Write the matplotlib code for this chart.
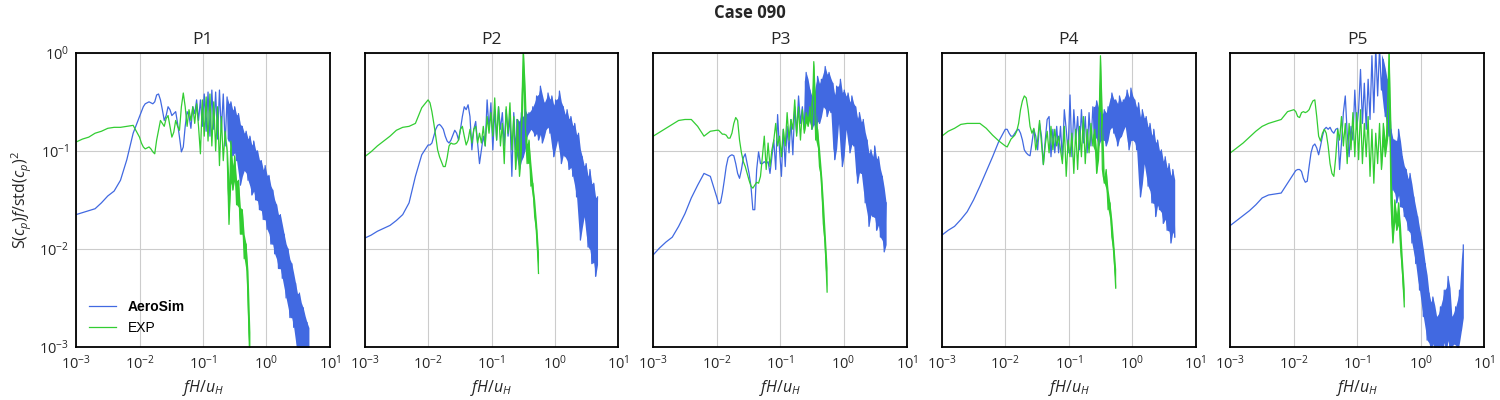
import matplotlib
matplotlib.use("Agg")
import matplotlib.pyplot as plt
import numpy as np

plt.rcParams['font.family'] = ['Open Sans', 'DejaVu Sans']
plt.rcParams['mathtext.fontset'] = 'custom'
plt.rcParams['mathtext.rm'] = 'Open Sans'
plt.rcParams['mathtext.it'] = 'Open Sans:italic'
plt.rcParams['mathtext.bf'] = 'Open Sans:bold'

# frequency grid, log10(fH/u_H)
logf = [-3.0, -2.9, -2.8, -2.7, -2.6, -2.5, -2.4, -2.3, -2.2, -2.1,
        -2.00, -1.97, -1.94, -1.91, -1.88, -1.85, -1.82, -1.79, -1.76, -1.73,
        -1.70, -1.67, -1.64, -1.61, -1.58, -1.55, -1.52, -1.49, -1.46, -1.43,
        -1.40, -1.37, -1.34, -1.31, -1.28, -1.25, -1.22, -1.19, -1.16, -1.13,
        -1.10, -1.07, -1.04, -1.01, -0.98, -0.95, -0.92, -0.89, -0.86, -0.83,
        -0.80, -0.77, -0.74, -0.71, -0.68, -0.65, -0.62, -0.59, -0.56, -0.53,
        -0.50, -0.47, -0.44, -0.41, -0.38, -0.35, -0.32, -0.29, -0.26, -0.23,
        -0.20, -0.17, -0.14, -0.11, -0.08, -0.05, -0.02, 0.01, 0.04, 0.07,
        0.10, 0.13, 0.16, 0.19, 0.22, 0.25, 0.28, 0.31, 0.34, 0.37,
        0.40, 0.43, 0.46, 0.49, 0.52, 0.55, 0.58, 0.61, 0.64, 0.67]

# log10 of S(cp)f/std(cp)^2, AeroSim and EXP for each probe
p1_sim = [-1.65, -1.63, -1.61, -1.59, -1.53, -1.46, -1.41, -1.30, -1.09, -0.82,
          -0.65, -0.60, -0.55, -0.52, -0.51, -0.50, -0.51, -0.52, -0.50, -0.43,
          -0.42, -0.48, -0.58, -0.69, -0.64, -0.55, -0.58, -0.64, -0.62, -0.60,
          -0.72, -0.86, -1.01, -0.96, -0.75, -0.60, -0.64, -0.77, -0.55, -0.62,
          -0.48, -0.69, -0.48, -0.75, -0.42, -0.80, -0.40, -0.85, -0.38, -0.78,
          -0.40, -0.88, -0.38, -0.80, -0.42, -0.95, -0.45, -0.90, -0.50, -1.05,
          -0.55, -1.10, -0.62, -1.35, -0.75, -1.20, -0.80, -1.30, -0.85, -1.45,
          -0.90, -1.50, -1.00, -1.60, -1.10, -1.70, -1.15, -1.80, -1.25, -1.95,
          -1.40, -2.05, -1.55, -2.20, -1.65, -2.30, -1.85, -2.50, -2.00, -2.70,
          -2.15, -2.80, -2.35, -3.05, -2.45, -3.10, -2.60, -3.15, -2.75, -3.10]
p1_exp = [-0.91, -0.88, -0.86, -0.82, -0.80, -0.77, -0.76, -0.76, -0.75, -0.74,
          -0.86, -0.92, -0.96, -0.98, -0.97, -0.96, -0.98, -1.01, -1.03, -0.89,
          -0.79, -0.69, -0.72, -0.75, -0.67, -0.64, -0.75, -0.86, -0.81, -0.69,
          -0.75, -0.79, -0.55, -0.41, -0.55, -0.75, -0.58, -0.69, -0.55, -0.72,
          -0.52, -0.75, -1.03, -0.48, -0.85, -0.45, -0.90, -0.42, -0.95, -0.50,
          -1.00, -0.55, -1.15, -0.65, -1.10, -0.80, -1.00, -1.75, -0.90, -1.40,
          -1.05, -1.55, -1.30, -1.85, -1.60, -2.10, -1.95, -2.50, -3.20]

p2_sim = [-1.89, -1.86, -1.82, -1.79, -1.76, -1.71, -1.65, -1.53, -1.26, -1.04,
          -0.94, -0.94, -0.92, -0.85, -0.78, -0.74, -0.73, -0.75, -0.78, -0.85,
          -0.90, -0.92, -0.89, -0.84, -0.79, -0.82, -0.89, -0.78, -0.65, -0.55,
          -0.58, -0.53, -0.65, -0.99, -0.78, -0.70, -0.92, -1.13, -0.99, -0.85,
          -0.95, -0.48, -0.78, -0.51, -0.99, -0.58, -0.89, -0.55, -0.78, -0.61,
          -0.95, -0.58, -0.85, -0.65, -1.26, -0.61, -0.99, -0.68, -1.19, -0.61,
          -1.06, -0.58, -0.85, -0.61, -0.78, -0.55, -0.85, -0.44, -0.89, -0.34,
          -0.92, -0.51, -0.78, -0.41, -0.82, -0.44, -1.06, -0.48, -0.89, -0.39,
          -1.13, -0.55, -1.06, -0.58, -1.19, -0.65, -1.26, -0.72, -1.47, -0.82,
          -1.91, -1.06, -1.67, -1.13, -1.98, -1.19, -2.15, -1.33, -2.28, -1.47]
p2_exp = [-1.06, -1.01, -0.95, -0.90, -0.85, -0.79, -0.76, -0.75, -0.72, -0.56,
          -0.48, -0.51, -0.60, -0.72, -0.85, -0.99, -1.06, -1.11, -1.16, -1.16,
          -1.07, -0.95, -0.92, -0.93, -0.93, -0.92, -0.89, -0.78, -0.75, -0.85,
          -0.94, -0.89, -0.78, -0.92, -0.78, -0.75, -0.92, -0.82, -0.92, -0.75,
          -0.95, -0.65, -0.82, -0.61, -0.85, -0.46, -0.89, -0.55, -0.95, -0.72,
          -1.13, -0.55, -0.82, -0.51, -0.99, -0.65, -1.19, -0.68, -1.26, -0.78,
          0.05, -0.72, -1.13, -0.89, -1.36, -1.33, -1.67, -1.81, -2.25]

p3_sim = [-2.06, -1.99, -1.93, -1.88, -1.77, -1.64, -1.48, -1.35, -1.23, -1.26,
          -1.47, -1.54, -1.53, -1.43, -1.30, -1.16, -1.07, -1.05, -1.04, -1.05,
          -1.13, -1.23, -1.28, -1.19, -1.07, -1.03, -1.13, -1.23, -1.36, -1.60,
          -1.60, -1.19, -1.01, -1.13, -1.13, -1.11, -1.13, -1.11, -1.23, -1.06,
          -0.89, -1.19, -0.63, -0.99, -1.26, -0.78, -1.16, -0.75, -1.02, -0.68,
          -1.04, -0.55, -0.82, -0.44, -0.72, -0.55, -0.78, -0.20, -0.65, -0.38,
          -0.78, -0.44, -0.78, -0.24, -0.72, -0.27, -0.55, -0.14, -0.65, -0.20,
          -0.61, -0.31, -1.09, -0.34, -0.72, -0.27, -1.16, -0.38, -0.78, -0.41,
          -1.02, -0.44, -0.95, -0.55, -1.33, -0.61, -1.23, -0.68, -1.53, -0.89,
          -1.77, -0.99, -1.67, -0.95, -1.81, -1.06, -1.88, -1.26, -2.03, -1.53]
p3_exp = [-0.85, -0.81, -0.77, -0.73, -0.69, -0.68, -0.68, -0.75, -0.85, -0.80,
          -0.79, -0.79, -0.81, -0.83, -0.83, -0.84, -0.87, -0.87, -0.82, -0.72,
          -0.66, -0.69, -0.89, -1.02, -1.11, -1.16, -1.23, -1.30, -1.36, -1.38,
          -1.35, -1.32, -1.33, -1.26, -1.06, -0.85, -1.19, -0.92, -1.16, -0.99,
          -0.89, -0.72, -0.95, -0.85, -1.06, -0.78, -0.95, -0.61, -0.89, -0.68,
          -0.78, -0.48, -0.85, -0.55, -0.89, -0.58, -0.82, -0.61, -0.75, -0.55,
          -0.78, -0.09, -0.89, -0.78, -1.16, -1.26, -1.74, -1.94, -2.44]

p4_sim = [-1.86, -1.81, -1.77, -1.70, -1.62, -1.50, -1.36, -1.21, -1.06, -0.90,
          -0.78, -0.78, -0.82, -0.85, -0.85, -0.82, -0.79, -0.78, -0.82, -0.89,
          -0.99, -1.02, -1.04, -1.05, -0.92, -0.78, -0.85, -0.99, -0.72, -0.85,
          -1.14, -0.89, -0.68, -0.65, -1.06, -0.78, -1.02, -0.75, -1.02, -0.75,
          -1.09, -0.58, -0.78, -1.02, -0.43, -1.06, -0.58, -0.89, -0.65, -0.99,
          -0.58, -0.92, -0.65, -1.02, -0.61, -0.95, -0.55, -0.85, -0.49, -0.95,
          -0.61, -0.89, -0.58, -0.95, -0.55, -0.78, -0.41, -0.82, -0.48, -0.95,
          -0.44, -0.85, -0.48, -0.75, -0.38, -0.99, -0.36, -0.89, -0.48, -0.99,
          -0.51, -1.47, -0.58, -1.13, -0.65, -1.36, -0.72, -1.53, -0.78, -1.67,
          -0.89, -1.60, -0.99, -1.74, -1.06, -1.81, -1.13, -1.94, -1.19, -1.88]
p4_exp = [-0.85, -0.80, -0.77, -0.73, -0.72, -0.72, -0.72, -0.77, -0.84, -0.90,
          -0.95, -0.96, -0.92, -0.88, -0.86, -0.84, -0.80, -0.72, -0.58, -0.49,
          -0.44, -0.46, -0.58, -0.75, -0.82, -0.77, -0.99, -0.89, -0.69, -0.92,
          -1.14, -0.94, -0.80, -1.02, -0.75, -0.99, -0.78, -0.95, -0.85, -0.99,
          -1.13, -0.75, -1.26, -0.89, -1.06, -0.82, -1.23, -0.78, -1.19, -0.75,
          -1.06, -0.65, -1.13, -0.78, -1.02, -0.72, -0.95, -0.78, -1.23, -0.95,
          -0.03, -1.19, -1.33, -1.19, -1.60, -1.53, -1.88, -2.01, -2.40]

p5_sim = [-1.76, -1.71, -1.66, -1.61, -1.55, -1.48, -1.45, -1.44, -1.43, -1.33,
          -1.23, -1.20, -1.19, -1.19, -1.21, -1.28, -1.32, -1.31, -1.16, -1.02,
          -0.95, -0.93, -0.97, -1.04, -0.95, -0.85, -0.78, -0.76, -0.78, -0.76,
          -0.80, -0.82, -0.78, -0.77, -1.19, -0.92, -0.61, -0.44, -0.82, -1.06,
          -0.75, -0.89, -0.38, -0.78, -0.58, -0.17, -0.72, -0.31, -0.78, -0.27,
          -0.68, -0.03, -0.61, 0.05, -0.44, 0.05, -0.38, -0.07, -0.65, -0.27,
          -0.85, -0.78, -1.40, -0.89, -1.53, -0.78, -1.57, -1.06, -1.67, -1.19,
          -1.81, -1.23, -1.94, -1.47, -2.15, -1.67, -2.42, -1.88, -2.69, -2.15,
          -2.93, -2.45, -3.05, -2.49, -3.05, -2.69, -3.05, -2.59, -3.05, -2.42,
          -3.05, -2.28, -3.05, -2.69, -2.97, -2.59, -3.05, -2.42, -2.83, -1.96]
p5_exp = [-1.02, -0.97, -0.92, -0.86, -0.80, -0.75, -0.72, -0.70, -0.68, -0.60,
          -0.58, -0.60, -0.65, -0.66, -0.61, -0.60, -0.61, -0.60, -0.58, -0.53,
          -0.49, -0.48, -0.65, -0.85, -0.90, -0.82, -0.78, -0.82, -0.95, -1.13,
          -1.23, -1.26, -1.06, -0.78, -0.89, -0.65, -0.95, -0.72, -1.13, -0.72,
          -0.99, -0.61, -1.06, -0.61, -1.09, -0.58, -1.13, -0.72, -1.06, -0.65,
          -1.26, -0.78, -1.33, -0.82, -1.13, -0.72, -1.19, -0.72, -1.06, -0.78,
          0.05, -1.53, -1.94, -1.50, -1.81, -1.53, -1.98, -2.22, -2.59]

probes = ['P1', 'P2', 'P3', 'P4', 'P5']
sim_data = [p1_sim, p2_sim, p3_sim, p4_sim, p5_sim]
exp_data = [p1_exp, p2_exp, p3_exp, p4_exp, p5_exp]

freq = 10 ** np.array(logf)


def band(y, frac):
    """Shade between local min / max of neighbouring samples (dense noisy part)."""
    prev = np.r_[y[0], y[:-1]]
    nxt = np.r_[y[1:], y[-1]]
    lo = np.minimum(y, np.minimum(prev, nxt))
    hi = np.maximum(y, np.maximum(prev, nxt))
    return 10 ** (y + frac * (lo - y)), 10 ** (y + frac * (hi - y))


fig, axes = plt.subplots(1, 5, figsize=(15, 4), dpi=100, sharey=True)
fig.subplots_adjust(left=0.0507, right=0.9895, top=0.868, bottom=0.1325, wspace=0.137)

for ax, name, sim, exp in zip(axes, probes, sim_data, exp_data):
    ys = np.array(sim)
    ye = np.array(exp)
    fs = freq[:len(ys)]
    fe = freq[:len(ye)]

    lo, hi = band(ys, 0.85)
    m = fs >= 10 ** -0.62
    ax.fill_between(fs[m], lo[m], hi[m], color='royalblue', lw=0)
    ax.plot(fs, 10 ** ys, color='royalblue', lw=0.9, label='AeroSim')

    lo, hi = band(ye, 0.5)
    m = fe >= 10 ** -0.62
    ax.fill_between(fe[m], lo[m], hi[m], color='limegreen', lw=0)
    ax.plot(fe, 10 ** ye, color='limegreen', lw=0.9, label='EXP')

    ax.set_xscale('log')
    ax.set_yscale('log')
    ax.set_xlim(1e-3, 1e1)
    ax.set_ylim(1e-3, 1e0)
    ax.xaxis.set_minor_locator(matplotlib.ticker.NullLocator())
    ax.yaxis.set_minor_locator(matplotlib.ticker.NullLocator())
    ax.grid(True, color='#cccccc', lw=0.8)
    ax.set_axisbelow(True)
    ax.tick_params(length=0, pad=5, labelsize=10.5, colors='#262626')
    for sp in ax.spines.values():
        sp.set_color('black')
        sp.set_linewidth(1.3)
    ax.set_title(name, fontsize=12.5, pad=6, color='#262626')
    ax.set_xlabel(r'$fH/u_H$', fontsize=11.5, color='#262626')

axes[0].set_ylabel(r'S($c_p$)$f$/std($c_p$)$^2$', fontsize=11.5, color='#262626')
leg = axes[0].legend(loc='lower left', frameon=False,
                     prop={'family': 'Liberation Sans', 'size': 10})
leg.get_texts()[0].set_fontweight('bold')

fig.suptitle('Case 090', fontweight='bold', fontsize=12, y=0.99, color='#262626')

fig.savefig('out.png', dpi=100)
